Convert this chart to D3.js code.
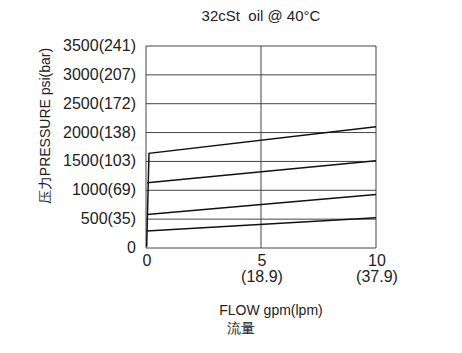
<!DOCTYPE html>
<html>
<head>
<meta charset="utf-8">
<script src="https://cdn.jsdelivr.net/npm/d3@7"></script>
<style>
  body { margin: 0; background: #fff; }
  text { font-family: "Liberation Sans", Arial, sans-serif; fill: #222; }
</style>
</head>
<body>
<div id="chart"></div>
<script>
// y ticks: psi with bar in brackets
const yTicks = [0, 500, 1000, 1500, 2000, 2500, 3000, 3500];
const yLabels = ["0", "500(35)", "1000(69)", "1500(103)", "2000(138)", "2500(172)", "3000(207)", "3500(241)"];

// x ticks: gpm with lpm below
const xTicks = [0, 5, 10];
const xLabels = ["0", "5", "10"];
const xSubLabels = ["", "(18.9)", "(37.9)"];

// pressure curves [gpm, psi]
const curve1 = [[0.03, 20], [0.13, 1640], [10, 2100]];
const curve2 = [[0.05, 1130], [10, 1510]];
const curve3 = [[0.04, 580], [10, 925]];
const curve4 = [[0.03, 295], [10, 525]];
const curves = [curve1, curve2, curve3, curve4];

const width = 462, height = 353;
const margin = { top: 46, right: 86, bottom: 105, left: 146 };

const svg = d3.select("#chart").append("svg")
    .attr("width", width)
    .attr("height", height);

const x = d3.scaleLinear().domain([0, 10]).range([margin.left, width - margin.right]);
const y = d3.scaleLinear().domain([0, 3500]).range([height - margin.bottom, margin.top]);

// grid
svg.append("g").selectAll("line")
    .data(yTicks)
    .enter().append("line")
    .attr("x1", x(0)).attr("x2", x(10))
    .attr("y1", d => y(d)).attr("y2", d => y(d))
    .attr("stroke", "#444").attr("stroke-width", 1);

svg.append("g").selectAll("line")
    .data(xTicks)
    .enter().append("line")
    .attr("x1", d => x(d)).attr("x2", d => x(d))
    .attr("y1", y(0)).attr("y2", y(3500))
    .attr("stroke", "#444").attr("stroke-width", 1);

// y tick labels
svg.append("g").selectAll("text")
    .data(yTicks)
    .enter().append("text")
    .attr("x", margin.left - 10)
    .attr("y", d => y(d) + 5)
    .attr("text-anchor", "end")
    .style("font-size", "16px")
    .text((d, i) => yLabels[i]);

// x tick labels
svg.append("g").selectAll("text")
    .data(xTicks)
    .enter().append("text")
    .attr("x", d => x(d) + 1)
    .attr("y", y(0) + 18)
    .attr("text-anchor", "middle")
    .style("font-size", "16px")
    .text((d, i) => xLabels[i]);

svg.append("g").selectAll("text")
    .data(xTicks)
    .enter().append("text")
    .attr("x", d => x(d) + 1)
    .attr("y", y(0) + 34)
    .attr("text-anchor", "middle")
    .style("font-size", "16px")
    .text((d, i) => xSubLabels[i]);

// curves
const line = d3.line().x(d => x(d[0])).y(d => y(d[1]));
svg.append("g").selectAll("path")
    .data(curves)
    .enter().append("path")
    .attr("d", line)
    .attr("fill", "none")
    .attr("stroke", "#111")
    .attr("stroke-width", 1.5);

// title
svg.append("text")
    .attr("x", 261)
    .attr("y", 21)
    .attr("text-anchor", "middle")
    .style("font-size", "15px")
    .style("white-space", "pre")
    .text("32cSt  oil @ 40°C");

// axis titles
svg.append("text")
    .attr("transform", "translate(50,126) rotate(-90)")
    .attr("text-anchor", "middle")
    .style("font-size", "14px")
    .text("压力PRESSURE psi(bar)");

svg.append("text")
    .attr("x", 271)
    .attr("y", 315)
    .attr("text-anchor", "middle")
    .style("font-size", "14px")
    .text("FLOW gpm(lpm)");

svg.append("text")
    .attr("x", 241)
    .attr("y", 333)
    .attr("text-anchor", "middle")
    .style("font-size", "14px")
    .text("流量");
</script>
</body>
</html>
